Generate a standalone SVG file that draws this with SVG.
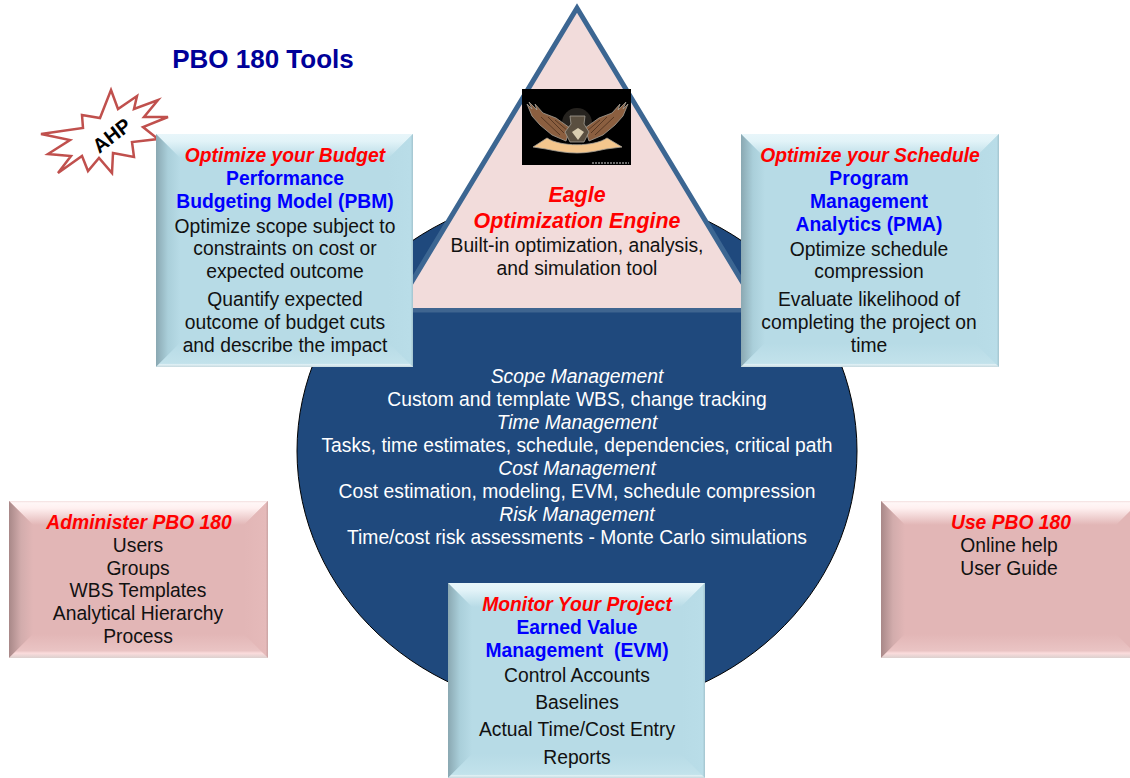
<svg xmlns="http://www.w3.org/2000/svg" width="1130" height="778" viewBox="0 0 1130 778">
<style>
text{font-family:"Liberation Sans",Arial,sans-serif;font-size:19.3px;text-anchor:middle;fill:#111}
.r{fill:#f00;font-weight:bold;font-style:italic}
.b{fill:#00f;font-weight:bold}
.w{fill:#fff}
.i{font-style:italic}
.e{font-size:21.4px}
.f{fill:none;stroke:#4a2e1c;stroke-width:.8}
</style>
<defs>
<linearGradient id="bt" x1="0" y1="0" x2="0" y2="1"><stop offset="0" stop-color="#e8f6fa"/><stop offset=".3" stop-color="#e2f3f8"/><stop offset="1" stop-color="#b7dbe6"/></linearGradient>
<linearGradient id="bl" x1="0" y1="0" x2="1" y2="0"><stop offset="0" stop-color="#8aa8b2"/><stop offset=".5" stop-color="#aacfda"/><stop offset="1" stop-color="#b7dbe6"/></linearGradient>
<linearGradient id="br" x1="0" y1="0" x2="1" y2="0"><stop offset="0" stop-color="#b7dbe6"/><stop offset=".9" stop-color="#b9dde8"/><stop offset="1" stop-color="#a3c4ce"/></linearGradient>
<linearGradient id="bb" x1="0" y1="0" x2="0" y2="1"><stop offset="0" stop-color="#b7dbe6"/><stop offset=".85" stop-color="#c2e2eb"/><stop offset=".9" stop-color="#e0f0f4"/><stop offset="1" stop-color="#c5d8de"/></linearGradient>
<linearGradient id="pt" x1="0" y1="0" x2="0" y2="1"><stop offset="0" stop-color="#f3dfdf"/><stop offset=".08" stop-color="#fff7f7"/><stop offset=".3" stop-color="#fff0f0"/><stop offset="1" stop-color="#e2b6b6"/></linearGradient>
<linearGradient id="pl" x1="0" y1="0" x2="1" y2="0"><stop offset="0" stop-color="#a88888"/><stop offset=".5" stop-color="#d2acac"/><stop offset="1" stop-color="#e2b6b6"/></linearGradient>
<linearGradient id="pr" x1="0" y1="0" x2="1" y2="0"><stop offset="0" stop-color="#e2b6b6"/><stop offset=".9" stop-color="#e5baba"/><stop offset="1" stop-color="#c9a3a3"/></linearGradient>
<linearGradient id="pb" x1="0" y1="0" x2="0" y2="1"><stop offset="0" stop-color="#e2b6b6"/><stop offset=".7" stop-color="#eac4c4"/><stop offset=".8" stop-color="#fbdcdc"/><stop offset="1" stop-color="#dcd0ce"/></linearGradient>
</defs>

<g id="core">
<ellipse cx="577" cy="451" rx="280" ry="260" fill="#1f497d" stroke="#000" stroke-width="1"/>
<path d="M396 308L577 8L758 308Z" fill="#f2dcdb"/>
<path d="M396 308L577 8L758 308" fill="none" stroke="#3c6692" stroke-width="5" stroke-miterlimit="10"/>
<path d="M390 308H764V312.500H390Z" fill="#3f6590"/>
<text x="577" y="383" class="w i">Scope Management</text>
<text x="577" y="406" class="w">Custom and template WBS, change tracking</text>
<text x="577" y="429" class="w i">Time Management</text>
<text x="577" y="452" class="w">Tasks, time estimates, schedule, dependencies, critical path</text>
<text x="577" y="475" class="w i">Cost Management</text>
<text x="577" y="498" class="w">Cost estimation, modeling, EVM, schedule compression</text>
<text x="577" y="521" class="w i">Risk Management</text>
<text x="577" y="544" class="w">Time/cost risk assessments - Monte Carlo simulations</text>
</g>

<g id="engine">
<rect x="522" y="89" width="109" height="76" fill="#000"/>
<circle cx="577" cy="123" r="15" fill="#26231f"/>
<g id="wing-l">
<path d="M527 104L532 109L529 102L537 110L535 104L543 113L556 118L570 128L566 141L552 135L540 125L532 116Z" fill="#8b5f40" stroke="#a5a096" stroke-width=".8"/>
<path class="f" d="M541 117L560 135M548 117L564 133M555 120L568 131"/>
</g>
<g id="wing-r" transform="translate(1155 0) scale(-1 1)">
<path d="M527 104L532 109L529 102L537 110L535 104L543 113L556 118L570 128L566 141L552 135L540 125L532 116Z" fill="#8b5f40" stroke="#a5a096" stroke-width=".8"/>
<path class="f" d="M541 117L560 135M548 117L564 133M555 120L568 131"/>
</g>
<path d="M570 116H585L584 124L589 132L584 142H570L565 132L571 124Z" fill="#5a4f40" stroke="#a5a096" stroke-width=".8"/>
<path d="M572 132L578 128L584 132L578 140Z" fill="#d9cdb0"/>
<path d="M533 147L547 138C560 147 594 147 607 138L622 147L606 149C596 151 588 153 577 153C566 153 556 151 546 149Z" fill="#f4c68d" stroke="#a5a096" stroke-width=".8"/>
<path d="M592 163H629" stroke="#8c8c8c" stroke-width="1.500" stroke-dasharray="2 1"/>
<text x="577" y="202" class="r e">Eagle</text>
<text x="577" y="228" class="r e">Optimization Engine</text>
<text x="577" y="252">Built-in optimization, analysis,</text>
<text x="577" y="275">and simulation tool</text>
</g>

<g id="title"><text x="263" y="68" style="font-size:26px;font-weight:bold;fill:#000099">PBO 180 Tools</text></g>

<g id="ahp">
<polygon points="111,90 118,109 137,96 134,109 158,100 144,117 168,117 143,127 158,139 132,142 134,157 113,153 112,173 99,158 88,171 82,156 58,173 71,156 48,154 70,140 41,134 83,128 82,115 100,118" fill="#fff" stroke="#c0504d" stroke-width="2.500"/>
<text transform="translate(116 141) rotate(-38)" style="font-size:20px;font-weight:bold;fill:#000">AHP</text>
</g>

<g id="pbm">
<rect x="156" y="134" width="257" height="233" fill="#b7dbe6"/>
<polygon points="156,134 413,134 389,158 180,158" fill="url(#bt)"/>
<polygon points="156,134 180,158 180,343 156,367" fill="url(#bl)"/>
<polygon points="413,134 389,158 389,343 413,367" fill="url(#br)"/>
<polygon points="156,367 180,343 389,343 413,367" fill="url(#bb)"/>
<text x="285" y="162" class="r">Optimize your Budget</text>
<text x="285" y="185" class="b">Performance</text>
<text x="285" y="208" class="b">Budgeting Model (PBM)</text>
<text x="285" y="233">Optimize scope subject to</text>
<text x="285" y="255">constraints on cost or</text>
<text x="285" y="278">expected outcome</text>
<text x="285" y="306">Quantify expected</text>
<text x="285" y="329">outcome of budget cuts</text>
<text x="285" y="352">and describe the impact</text>
</g>

<g id="pma">
<rect x="741" y="134" width="258" height="233" fill="#b7dbe6"/>
<polygon points="741,134 999,134 975,158 765,158" fill="url(#bt)"/>
<polygon points="741,134 765,158 765,343 741,367" fill="url(#bl)"/>
<polygon points="999,134 975,158 975,343 999,367" fill="url(#br)"/>
<polygon points="741,367 765,343 975,343 999,367" fill="url(#bb)"/>
<text x="870" y="162" class="r">Optimize your Schedule</text>
<text x="869" y="185" class="b">Program</text>
<text x="869" y="208" class="b">Management</text>
<text x="869" y="231" class="b">Analytics (PMA)</text>
<text x="869" y="256">Optimize schedule</text>
<text x="869" y="278">compression</text>
<text x="869" y="306">Evaluate likelihood of</text>
<text x="869" y="329">completing the project on</text>
<text x="869" y="352">time</text>
</g>

<g id="admin">
<rect x="9" y="501" width="259" height="157" fill="#e2b6b6"/>
<polygon points="9,501 268,501 244,525 33,525" fill="url(#pt)"/>
<polygon points="9,501 33,525 33,634 9,658" fill="url(#pl)"/>
<polygon points="268,501 244,525 244,634 268,658" fill="url(#pr)"/>
<polygon points="9,658 33,634 244,634 268,658" fill="url(#pb)"/>
<text x="139" y="529" class="r">Administer PBO 180</text>
<text x="138" y="552">Users</text>
<text x="138" y="575">Groups</text>
<text x="138" y="597">WBS Templates</text>
<text x="138" y="620">Analytical Hierarchy</text>
<text x="138" y="643">Process</text>
</g>

<g id="use">
<rect x="881" y="501" width="249" height="157" fill="#e2b6b6"/>
<polygon points="881,501 1140,501 1116,525 905,525" fill="url(#pt)"/>
<polygon points="881,501 905,525 905,634 881,658" fill="url(#pl)"/>
<polygon points="881,658 905,634 1116,634 1140,658" fill="url(#pb)"/>
<text x="1011" y="529" class="r">Use PBO 180</text>
<text x="1009" y="552">Online help</text>
<text x="1009" y="575">User Guide</text>
</g>

<g id="evm">
<rect x="448" y="583" width="257" height="195" fill="#b7dbe6"/>
<polygon points="448,583 705,583 681,607 472,607" fill="url(#bt)"/>
<polygon points="448,583 472,607 472,754 448,778" fill="url(#bl)"/>
<polygon points="705,583 681,607 681,754 705,778" fill="url(#br)"/>
<polygon points="448,778 472,754 681,754 705,778" fill="url(#bb)"/>
<text x="577" y="611" class="r">Monitor Your Project</text>
<text x="577" y="634" class="b">Earned Value</text>
<text x="577" y="657" class="b" xml:space="preserve" style="white-space:pre">Management  (EVM)</text>
<text x="577" y="682">Control Accounts</text>
<text x="577" y="709">Baselines</text>
<text x="577" y="736">Actual Time/Cost Entry</text>
<text x="577" y="764">Reports</text>
</g>
</svg>
